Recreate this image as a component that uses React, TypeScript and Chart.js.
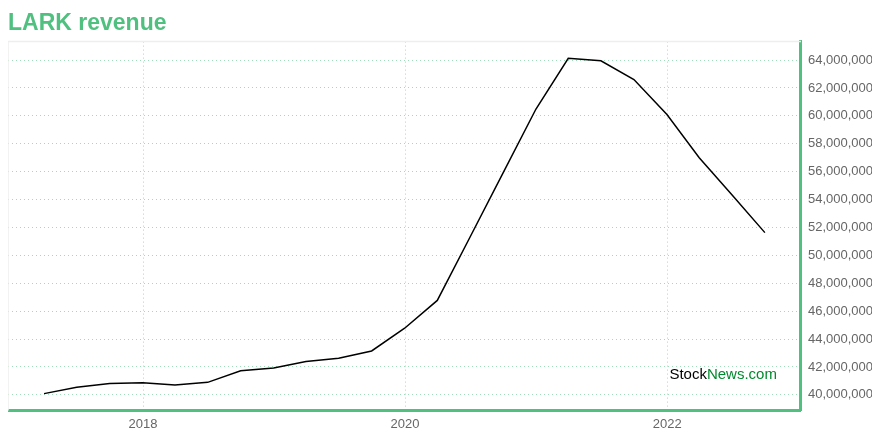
import React, { useEffect, useRef } from "react";
import { Chart, registerables } from "chart.js";

Chart.register(...registerables);

const quarterDates: string[] = [
  "2017-03-31", "2017-06-30", "2017-09-30", "2017-12-31",
  "2018-03-31", "2018-06-30", "2018-09-30", "2018-12-31",
  "2019-03-31", "2019-06-30", "2019-09-30", "2019-12-31",
  "2020-03-31", "2020-06-30", "2020-09-30", "2020-12-31",
  "2021-03-31", "2021-06-30", "2021-09-30", "2021-12-31",
  "2022-03-31", "2022-06-30", "2022-09-30",
];

const revenue: number[] = [
  40090000, 40540000, 40820000, 40870000,
  40710000, 40900000, 41730000, 41920000,
  42390000, 42630000, 43150000, 44780000,
  46770000, 51300000, 55900000, 60490000,
  64120000, 63950000, 62600000, 60090000,
  57000000, 54350000, 51630000,
];

const yearTicks: number[] = [2018, 2020, 2022];
const yTickValues: number[] = [
  40000000, 42000000, 44000000, 46000000, 48000000, 50000000, 52000000,
  54000000, 56000000, 58000000, 60000000, 62000000, 64000000,
];

const titleText = "LARK revenue";
const GREEN = "#50c080";
const GRID = "rgba(80,192,128,0.55)";
const FONT = "'Liberation Sans', Arial, sans-serif";

const toMs = (d: string) => {
  const [y, m, day] = d.split("-").map(Number);
  return Date.UTC(y, m - 1, day);
};

const frameAndMark = {
  id: "frameAndMark",
  beforeDatasetsDraw(chart: any) {
    const { ctx, chartArea } = chart;
    ctx.save();
    ctx.strokeStyle = "#eeeeee";
    ctx.lineWidth = 1.5;
    ctx.beginPath();
    ctx.moveTo(chartArea.left, chartArea.bottom);
    ctx.lineTo(chartArea.left, chartArea.top);
    ctx.lineTo(chartArea.right, chartArea.top);
    ctx.stroke();
    ctx.restore();
  },
  afterDatasetsDraw(chart: any) {
    const { ctx, chartArea } = chart;
    ctx.save();
    ctx.font = "15px " + FONT;
    ctx.textBaseline = "alphabetic";
    ctx.textAlign = "left";
    const a = "Stock";
    const b = "News.com";
    const wa = ctx.measureText(a).width;
    const wb = ctx.measureText(b).width;
    const x = chartArea.right - 24 - wa - wb;
    const y = chartArea.bottom - 31;
    ctx.fillStyle = "#000000";
    ctx.fillText(a, x, y);
    ctx.fillStyle = "#008a2e";
    ctx.fillText(b, x + wa, y);
    ctx.restore();
  },
};

export default function App() {
  const ref = useRef<HTMLCanvasElement | null>(null);

  useEffect(() => {
    if (!ref.current) return;
    const xs = quarterDates.map(toMs);
    const xSpan = xs[xs.length - 1] - xs[0];
    const yMin = Math.min(...revenue);
    const yMax = Math.max(...revenue);
    const ySpan = yMax - yMin;

    const chart = new Chart(ref.current, {
      type: "line",
      data: {
        datasets: [
          {
            data: xs.map((x, i) => ({ x, y: revenue[i] })),
            borderColor: "#000000",
            borderWidth: 1.5,
            pointRadius: 0,
            tension: 0,
            fill: false,
          },
        ],
      },
      options: {
        animation: false,
        responsive: true,
        maintainAspectRatio: false,
        layout: { padding: { left: 0, right: 0, top: 0, bottom: 0 } },
        plugins: {
          legend: { display: false },
          tooltip: { enabled: false },
          title: {
            display: true,
            text: titleText,
            align: "start",
            color: GREEN,
            font: { family: FONT, size: 23, weight: "bold" },
            padding: { top: 2, bottom: 4 },
          },
        },
        scales: {
          x: {
            type: "linear",
            position: "bottom",
            min: xs[0] - 0.05 * xSpan,
            max: xs[xs.length - 1] + 0.05 * xSpan,
            afterBuildTicks: (scale: any) => {
              scale.ticks = yearTicks.map((y) => ({ value: Date.UTC(y, 0, 1) }));
            },
            ticks: {
              callback: (v: any) => String(new Date(Number(v)).getUTCFullYear()),
              color: "#666666",
              font: { family: FONT, size: 13 },
              padding: 6,
              maxRotation: 0,
              autoSkip: false,
            },
            grid: { color: GRID, drawTicks: false, lineWidth: 1 },
            border: { display: true, color: GREEN, width: 3, dash: [1, 3] },
          },
          y: {
            type: "linear",
            position: "right",
            min: yMin - 0.05 * ySpan,
            max: yMax + 0.05 * ySpan,
            afterBuildTicks: (scale: any) => {
              scale.ticks = yTickValues.map((v) => ({ value: v }));
            },
            ticks: {
              callback: (v: any) => Number(v).toLocaleString("en-US"),
              color: "#666666",
              font: { family: FONT, size: 13 },
              padding: 7,
            },
            grid: { color: GRID, drawTicks: false, lineWidth: 1 },
            border: { display: true, color: GREEN, width: 3, dash: [1, 3] },
          },
        },
      },
      plugins: [frameAndMark],
    });
    return () => chart.destroy();
  }, []);

  return (
    <div style={{ width: 872, height: 430, position: "relative" }}>
      <canvas ref={ref} />
    </div>
  );
}
